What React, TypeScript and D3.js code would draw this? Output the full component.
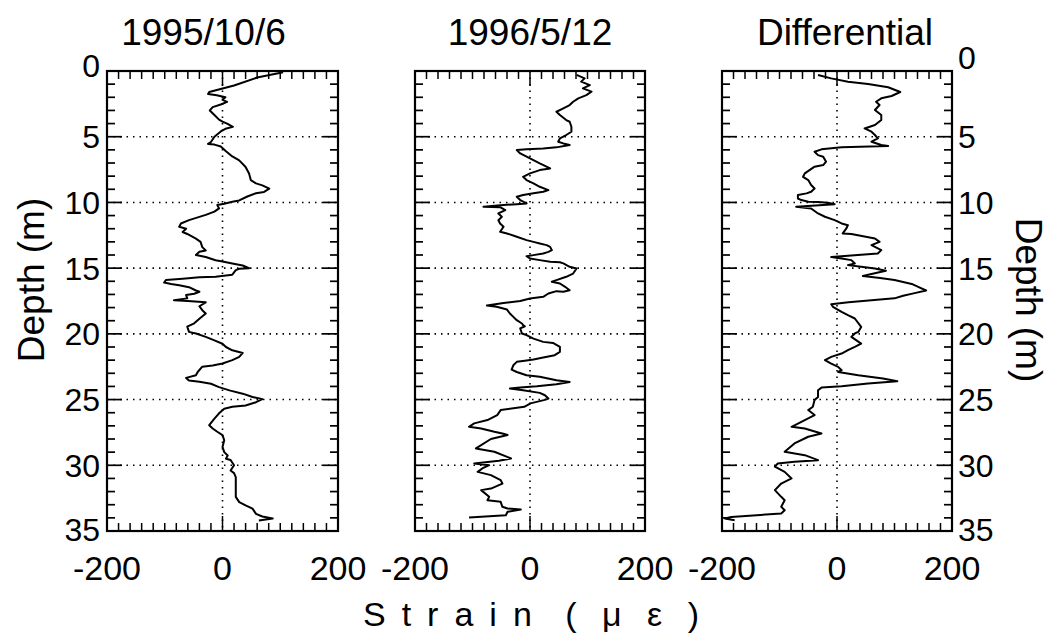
import React from 'react';
import * as d3 from 'd3';

type Pt = [number, number]; // [strain (μɛ), depth (m)]

const titles = ['1995/10/6', '1996/5/12', 'Differential'];
const depthTicks = [0, 5, 10, 15, 20, 25, 30, 35];
const strainTicks = [-200, 0, 200];

const oct1995: Pt[] = [
  [105,0.1],[60,0.5],[20,1.1],[-23,1.6],[-25,1.75],[-10,1.85],[5,2.0],[0,2.2],[8,2.35],[-3,2.55],[-17,2.75],[-22,3.0],[-14,3.35],[-6,3.7],[0,3.85],[8,4.0],[18,4.25],[5,4.4],[-3,4.6],[-14,5.0],[-20,5.4],[-25,5.55],[-14,5.6],[-3,5.75],[6,6.1],[17,6.5],[29,6.8],[40,7.3],[46,7.8],[49,8.3],[58,8.55],[69,8.7],[81,8.95],[72,9.2],[58,9.3],[43,9.55],[29,9.85],[17,9.95],[3,10.1],[-9,10.2],[-6,10.45],[-14,10.7],[-29,10.95],[-40,11.1],[-58,11.35],[-72,11.6],[-75,11.85],[-63,12.0],[-69,12.25],[-61,12.4],[-46,12.75],[-38,13.0],[-35,13.4],[-29,13.65],[-40,13.75],[-46,14.0],[-29,14.15],[-12,14.4],[0,14.5],[17,14.65],[35,14.8],[46,15.0],[29,15.05],[23,15.15],[17,15.5],[-12,15.65],[-40,15.7],[-69,15.8],[-98,15.9],[-101,16.1],[-89,16.2],[-75,16.3],[-58,16.45],[-46,16.7],[-40,16.8],[-49,16.95],[-63,17.05],[-61,17.3],[-84,17.45],[-60,17.5],[-29,17.6],[-40,17.9],[-35,18.2],[-29,18.45],[-40,18.85],[-49,19.2],[-61,19.45],[-58,19.85],[-46,19.97],[-29,20.23],[-14,20.5],[0,20.75],[6,21.0],[17,21.25],[35,21.45],[29,21.75],[17,22.0],[0,22.25],[-17,22.4],[-35,22.5],[-43,22.9],[-46,23.15],[-63,23.35],[-58,23.55],[-40,23.65],[-20,23.8],[-6,24.05],[12,24.3],[35,24.55],[52,24.8],[69,24.97],[58,25.2],[40,25.45],[17,25.55],[3,25.7],[-6,26.05],[-14,26.45],[-23,26.95],[-17,27.2],[-9,27.45],[0,27.7],[3,28.1],[0,28.6],[3,29.0],[9,29.25],[6,29.5],[14,29.6],[20,30.0],[14,30.4],[20,30.6],[23,30.9],[23,31.7],[23,32.4],[29,32.8],[40,33.05],[52,33.3],[58,33.7],[69,33.9],[87,34.05],[63,34.2]
];

const may1996: Pt[] = [
  [81,0.3],[95,0.56],[89,0.81],[104,1.07],[92,1.32],[107,1.57],[98,1.83],[84,2.08],[75,2.34],[69,2.59],[58,2.84],[46,3.1],[52,3.35],[63,3.73],[69,3.86],[72,4.24],[72,4.62],[63,4.87],[52,5.13],[49,5.38],[58,5.51],[69,5.63],[46,5.81],[23,5.89],[-6,5.96],[-23,6.02],[-17,6.27],[0,6.65],[17,7.03],[35,7.41],[17,7.54],[0,7.79],[-12,8.05],[-6,8.3],[6,8.55],[17,8.81],[32,9.06],[23,9.19],[6,9.31],[-12,9.44],[-23,9.57],[-17,9.82],[-6,10.08],[-23,10.13],[-46,10.2],[-81,10.33],[-52,10.36],[-43,10.58],[-55,10.84],[-49,11.09],[-55,11.35],[-52,11.6],[-46,11.85],[-52,12.23],[-40,12.36],[-23,12.61],[-6,12.87],[6,13.0],[17,13.12],[29,13.25],[35,13.38],[38,13.63],[32,13.76],[23,13.88],[6,14.01],[-6,14.09],[0,14.26],[17,14.39],[35,14.52],[52,14.55],[58,14.64],[69,14.9],[81,15.03],[75,15.41],[63,15.66],[46,15.91],[38,16.04],[52,16.17],[61,16.42],[69,16.68],[58,16.8],[46,16.75],[32,16.93],[23,17.18],[0,17.31],[-17,17.5],[-46,17.65],[-75,17.85],[-58,17.94],[-40,18.15],[-35,18.45],[-29,18.71],[-23,18.96],[-14,19.21],[-12,19.34],[-9,19.42],[-17,19.59],[-14,19.97],[-6,20.1],[6,20.36],[23,20.61],[40,20.69],[52,20.99],[52,21.37],[43,21.62],[23,21.8],[6,21.95],[-9,22.05],[-23,22.13],[-29,22.39],[-32,22.72],[-23,22.9],[-6,23.15],[17,23.27],[46,23.53],[69,23.66],[46,23.83],[12,23.99],[-17,24.09],[-35,24.16],[-12,24.29],[17,24.49],[26,24.67],[32,24.92],[24,25.04],[1,25.29],[-10,25.55],[-51,25.8],[-57,26.18],[-74,26.56],[-97,26.81],[-106,27.07],[-85,27.2],[-62,27.45],[-48,27.58],[-39,27.7],[-68,28.0],[-94,28.72],[-62,28.97],[-33,29.48],[-54,29.65],[-97,29.86],[-71,29.99],[-83,30.24],[-91,30.5],[-68,30.75],[-51,31.13],[-48,31.39],[-68,31.77],[-85,31.89],[-71,32.4],[-74,32.66],[-51,32.78],[-48,33.16],[-39,33.29],[-16,33.37],[-39,33.54],[-42,33.8],[-106,33.98]
];

const differential: Pt[] = [
  [-33,0.3],[-10,0.56],[19,0.81],[54,0.99],[89,1.24],[110,1.6],[95,1.9],[77,2.08],[68,2.34],[74,2.59],[66,2.97],[77,3.35],[77,3.73],[66,4.11],[48,4.37],[60,4.62],[66,4.87],[71,5.13],[60,5.38],[77,5.63],[89,5.71],[8,5.81],[-27,5.96],[-39,6.14],[-33,6.4],[-24,6.52],[-19,6.9],[-24,7.16],[-39,7.28],[-56,7.79],[-59,8.05],[-50,8.3],[-45,8.68],[-39,8.94],[-45,9.19],[-53,9.31],[-68,9.44],[-68,9.7],[-62,9.82],[-50,9.95],[-33,9.97],[-16,10.03],[-4,10.13],[-71,10.33],[-45,10.46],[-33,10.84],[-21,11.09],[-4,11.35],[8,11.6],[19,11.73],[16,12.0],[10,12.36],[25,12.4],[66,12.74],[74,13.0],[60,13.25],[66,13.38],[77,13.63],[71,13.88],[-4,14.14],[-10,14.16],[8,14.26],[25,14.39],[31,14.64],[19,14.77],[42,14.9],[66,15.03],[85,15.2],[60,15.45],[45,15.6],[75,15.75],[100,15.9],[130,16.2],[145,16.5],[155,16.7],[135,16.9],[115,17.1],[100,17.3],[60,17.45],[20,17.6],[-10,17.74],[-7,17.94],[8,18.32],[19,18.58],[31,18.83],[42,19.47],[37,19.85],[31,19.97],[25,20.23],[42,20.74],[31,20.99],[19,21.24],[8,21.5],[-10,21.75],[-21,22.0],[-10,22.26],[2,22.51],[8,22.77],[2,22.9],[37,23.15],[80,23.4],[105,23.6],[54,23.78],[8,23.99],[-27,24.09],[-33,24.29],[-33,24.8],[-39,25.04],[-42,25.55],[-50,25.8],[-39,26.18],[-62,26.69],[-79,27.07],[-56,27.2],[-27,27.58],[-50,27.83],[-74,28.34],[-91,28.97],[-56,29.23],[-33,29.61],[-74,29.73],[-103,29.86],[-108,30.11],[-91,30.5],[-79,31.0],[-97,31.39],[-108,31.89],[-97,32.4],[-91,32.66],[-97,33.16],[-91,33.42],[-97,33.67],[-184,33.93],[-195,34.05],[-178,34.18]
];

const series = [oct1995, may1996, differential];

const FONT = '"Liberation Sans", Arial, Helvetica, sans-serif';

export default function App() {
  const W = 1052, H = 639;
  const top = 71, bottom = 531;
  const panelX: [number, number][] = [[107, 338], [415, 645], [722, 952]];
  const titleShift = [-19, 0, 8];
  const y = d3.scaleLinear().domain([0, 35]).range([top, bottom]);
  const minorDepth = d3.range(0, 36, 1);
  const minorStrain = d3.range(-200, 201, 20);
  const gridDepth = [5, 10, 15, 20, 25, 30];

  return (
    <svg width={W} height={H} viewBox={`0 0 ${W} ${H}`}
      style={{ position: 'fixed', left: 0, top: 0, background: '#fff' }}
      fontFamily={FONT}>
      <rect x={0} y={0} width={W} height={H} fill="#fff" />
      {series.map((data, i) => {
        const [x0, x1] = panelX[i];
        const x = d3.scaleLinear().domain([-200, 200]).range([x0, x1]);
        const line = d3.line<Pt>().x(d => x(d[0])).y(d => y(d[1]));
        return (
          <g key={i}>
            {gridDepth.map(g => (
              <line key={'g' + g} x1={x0} x2={x1} y1={y(g)} y2={y(g)}
                stroke="#000" strokeWidth={1.6} strokeDasharray="1.5,5" />
            ))}
            <line x1={x(0)} x2={x(0)} y1={top} y2={bottom}
              stroke="#000" strokeWidth={1.6} strokeDasharray="1.5,5" />
            {minorDepth.map(d => {
              const len = d % 5 === 0 ? 15 : 8;
              return (
                <g key={'dt' + d}>
                  <line x1={x0} x2={x0 + len} y1={y(d)} y2={y(d)} stroke="#000" strokeWidth={1.7} />
                  <line x1={x1} x2={x1 - len} y1={y(d)} y2={y(d)} stroke="#000" strokeWidth={1.7} />
                </g>
              );
            })}
            {minorStrain.map(s => {
              const len = s === 0 ? 15 : 8;
              return (
                <g key={'st' + s}>
                  <line x1={x(s)} x2={x(s)} y1={top} y2={top + len} stroke="#000" strokeWidth={1.5} />
                  <line x1={x(s)} x2={x(s)} y1={bottom} y2={bottom - len} stroke="#000" strokeWidth={1.5} />
                </g>
              );
            })}
            <rect x={x0} y={top} width={x1 - x0} height={bottom - top}
              fill="none" stroke="#000" strokeWidth={2.2} />
            <path d={line(data) || ''} fill="none" stroke="#000" strokeWidth={2}
              strokeLinejoin="round" />
            {strainTicks.map(s => (
              <text key={'sl' + s} x={x(s)} y={580} textAnchor="middle" fontSize={34}>
                {s}
              </text>
            ))}
            <text x={(x0 + x1) / 2 + titleShift[i]} y={45} textAnchor="middle" fontSize={37}>
              {titles[i]}
            </text>
          </g>
        );
      })}
      {depthTicks.map(d => (
        <text key={'l' + d} x={100} y={y(d) - (d === 0 ? 6 : d === 35 ? 2 : 0)} dy="0.36em" textAnchor="end" fontSize={32}>{d}</text>
      ))}
      {depthTicks.map(d => (
        <text key={'r' + d} x={958} y={y(d) - (d === 0 ? 14 : d === 35 ? 2 : 0)} dy="0.36em" textAnchor="start" fontSize={32}>{d}</text>
      ))}
      <text transform="translate(44,280) rotate(-90)" textAnchor="middle" fontSize={37}>Depth (m)</text>
      <text transform="translate(1016,300) rotate(90)" textAnchor="middle" fontSize={37}>Depth (m)</text>
      <text x={535} y={626} textAnchor="middle" fontSize={34}>
        <tspan letterSpacing={16}>Strain</tspan>
        <tspan letterSpacing={8}> ( μ ε )</tspan>
      </text>
    </svg>
  );
}
